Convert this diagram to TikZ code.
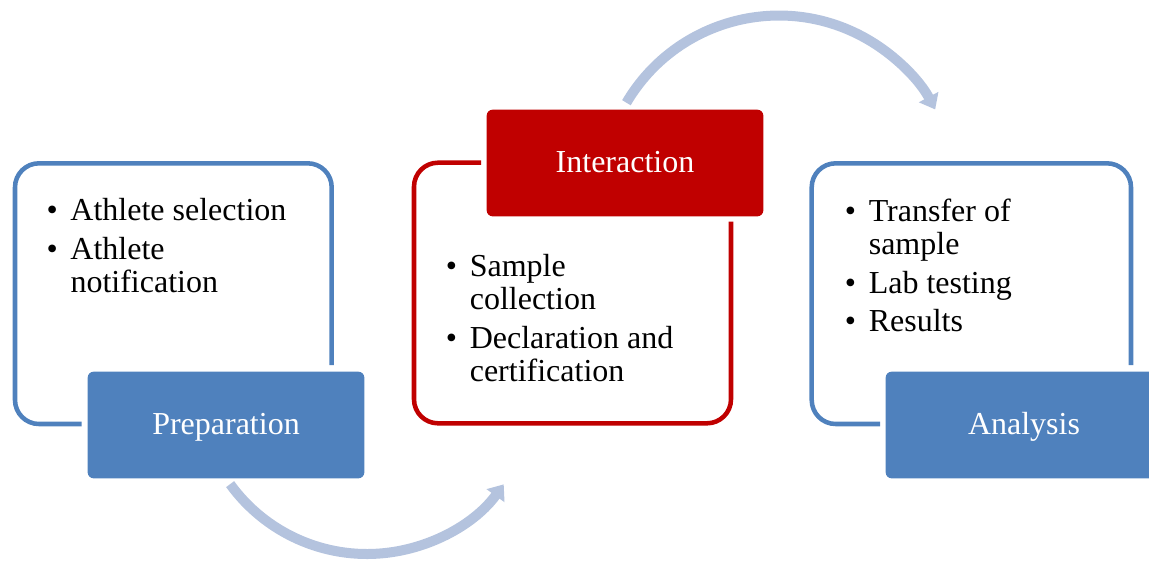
\documentclass[tikz,border=0pt]{standalone}
\usepackage{fontspec}
\setmainfont{Liberation Serif}
\usetikzlibrary{arrows.meta}

\tikzset{every picture/.style={line width=0.75pt}}
\tikzset{
  frame/.style={line width=3.4pt, rounded corners=18pt},
  blueframe/.style={frame, draw={rgb, 255:red, 79; green, 129; blue, 189 }},
  redframe/.style={frame, draw={rgb, 255:red, 192; green, 0; blue, 0 }},
  tab/.style={rounded corners=4.5pt, minimum width=207.5pt, minimum height=80pt, inner sep=0pt, text=white, text height=20.4pt, text depth=6pt, font=\fontsize{24}{25}\selectfont},
  bluetab/.style={tab, fill={rgb, 255:red, 79; green, 129; blue, 189 }},
  redtab/.style={tab, fill={rgb, 255:red, 192; green, 0; blue, 0 }},
  items/.style={anchor=base west, inner sep=0pt, align=left, font=\fontsize{24}{25}\selectfont},
  flowarc/.style={line width=7.5pt, color={rgb, 255:red, 180; green, 195; blue, 222 }, -{Triangle[width=16pt, length=10.5pt]}}
}
\newcommand{\bul}{\makebox[18pt][l]{\textbullet}}
\newcommand{\ind}{\hspace*{18pt}}

\begin{document}
\begin{tikzpicture}[x=0.75pt,y=0.75pt,yscale=-1,xscale=1]
\useasboundingbox (0,0) rectangle (1149,562);
\clip (0,0) rectangle (1149,562);

%Frames
\draw [blueframe] (81.7,424) -- (15,424) -- (15,163.3) -- (331.7,163.3) -- (331.7,365) ;
\draw [redframe] (481,162.7) -- (414,162.7) -- (414,423.3) -- (731,423.3) -- (731,221.7) ;
\draw [blueframe] (880,424) -- (811.7,424) -- (811.7,163.3) -- (1131,163.3) -- (1131,365) ;

%Curve Lines
\coordinate (topfrom) at (626.4,102.7);
\draw [flowarc] (topfrom) arc [start angle=-149.5, end angle=-28, radius=177] ;
\coordinate (bottomfrom) at (230.1,484.1);
\draw [flowarc] (bottomfrom) arc [start angle=144.1, end angle=36, radius=169] ;

% Tabs
\draw (226,425) node (prep) [bluetab] {Preparation};
\draw (625,163) node (inter) [redtab] {Interaction};
\draw (1024,425) node (anal) [bluetab] {Analysis};

% Text Node (base = last line)
\draw (46,292.7) node (prepitems) [items] {\bul Athlete selection\\[4pt]\bul Athlete\\\ind notification};
% Text Node
\draw (445.3,381.7) node (interitems) [items] {\bul Sample\\\ind collection\\[4pt]\bul Declaration and\\\ind certification};
% Text Node
\draw (844.3,331.7) node (analitems) [items] {\bul Transfer of\\\ind sample\\[4pt]\bul Lab testing\\[4pt]\bul Results};

\end{tikzpicture}
\end{document}
